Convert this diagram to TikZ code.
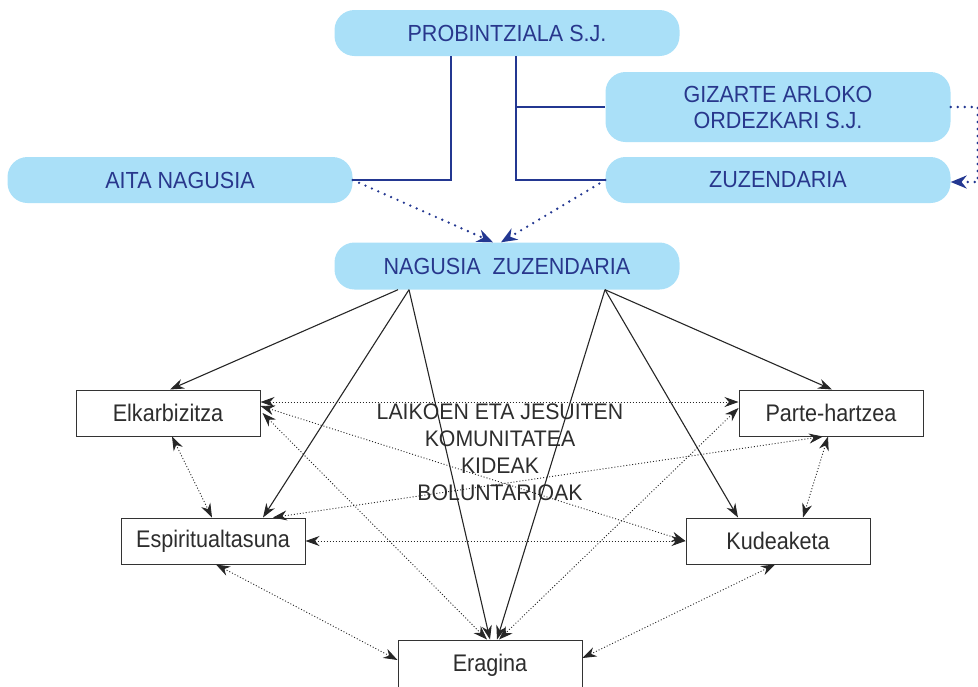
\documentclass[tikz,border=0pt]{standalone}
\usepackage{fontspec}
\setmainfont{Liberation Sans}
\newfontfamily\condfont[FakeStretch=0.925]{Liberation Sans}
\newfontfamily\boxfont[FakeStretch=0.9]{Liberation Sans}
\newfontfamily\midfont[FakeStretch=0.945]{Liberation Sans}
\usetikzlibrary{arrows.meta}
\definecolor{boxblue}{RGB}{170,224,248}
\definecolor{textblue}{RGB}{40,55,140}
\definecolor{lineblue}{RGB}{35,55,145}
\definecolor{textgray}{RGB}{45,45,45}
\begin{document}
\begin{tikzpicture}[x=1pt,y=-1pt,
  bluebox/.style={fill=boxblue, rounded corners=20pt, minimum width=345pt, minimum height=46pt, text=textblue, font=\fontsize{23.3}{26}\selectfont\condfont, align=center, inner sep=0pt},
  whitebox/.style={draw=black!80, line width=1pt, fill=white, minimum width=184pt, minimum height=46pt, font=\fontsize{24}{28}\selectfont\boxfont, text=textgray, inner sep=0pt},
  orgline/.style={draw=lineblue, line width=2.5pt},
  bluedots/.style={draw=lineblue, line width=2.6pt, line cap=round, dash pattern=on 0pt off 7pt, -{Stealth[length=16pt,width=13pt]}},
  linkarrow/.style={draw=black!85, line width=1.1pt, -{Stealth[length=14pt,width=10pt]}},
  dotlink/.style={draw=black!85, line width=0.9pt, dash pattern=on 1pt off 2pt, {Stealth[length=14pt,width=10pt]}-{Stealth[length=14pt,width=10pt]}}
]
\path[use as bounding box, clip] (0,0) rectangle (978,686);

% blue boxes
\node[bluebox] (prob) at (507,33) {PROBINTZIALA S.J.};
\node[bluebox, minimum height=70pt] (giz) at (778,107) {GIZARTE ARLOKO\\ORDEZKARI S.J.};
\node[bluebox] (zuz) at (778,180) {ZUZENDARIA};
\node[bluebox] (aita) at (180,180) {AITA NAGUSIA};
\node[bluebox, minimum height=47pt] (nz) at (507,266) {NAGUSIA\ \ ZUZENDARIA};

% white boxes
\node[whitebox] (elk) at (168,413) {Elkarbizitza};
\node[whitebox] (par) at (831,413) {Parte-hartzea};
\node[whitebox] (esp) at (213,541) {Espiritualtasuna};
\node[whitebox] (kud) at (778,541) {Kudeaketa};
\node[whitebox, minimum height=50pt] (era) at (490,665) {Eragina};

% centre text
\node[font=\fontsize{22.5}{27}\selectfont\midfont, text=textgray, align=center] (comm) at (500,452) {LAIKOEN ETA JESUITEN\\KOMUNITATEA\\KIDEAK\\BOLUNTARIOAK};

% organisational lines
\draw[orgline] ([xshift=-56pt]prob.south) |- (aita.east);
\draw[orgline] ([xshift=9pt]prob.south) |- (zuz.west);
\draw[orgline] ([xshift=9pt]prob.south |- giz.west) -- (giz.west);

\draw[bluedots] (aita.east) -- ([xshift=-14pt]nz.north);
\draw[bluedots] (zuz.west) -- ([xshift=-6pt]nz.north);
\draw[bluedots] (giz.east) -- ([xshift=27pt]giz.east) |- ([yshift=-2pt]zuz.east);

% solid arrows from NAGUSIA ZUZENDARIA
\draw[linkarrow] ([xshift=-109pt]nz.south) -- ([xshift=2pt]elk.north);
\draw[linkarrow] ([xshift=-98pt]nz.south) -- ([xshift=50pt]esp.north);
\draw[linkarrow] ([xshift=-98pt]nz.south) -- ([xshift=0pt]era.north);
\draw[linkarrow] ([xshift=98pt]nz.south) -- ([xshift=7pt]era.north);
\draw[linkarrow] ([xshift=98pt]nz.south) -- ([xshift=-40pt]kud.north);
\draw[linkarrow] ([xshift=98pt]nz.south) -- ([xshift=1pt]par.north);

% dotted links
\draw[dotlink] ([yshift=11pt]elk.east) -- ([yshift=11pt]par.west);
\draw[dotlink] ([yshift=7pt]elk.east) -- (kud.west);
\draw[dotlink] ([xshift=2pt]elk.east) -- ([xshift=-3pt]era.north);
\draw[dotlink] ([xshift=60pt]esp.north) -- ([xshift=-8pt]par.south);
\draw[dotlink] (esp.east) -- (kud.west);
\draw[dotlink] ([yshift=5pt]par.west) -- ([xshift=9pt]era.north);
\draw[dotlink] ([xshift=4pt]elk.south) -- ([xshift=-1pt]esp.north);
\draw[dotlink] ([xshift=-3pt]par.south) -- ([xshift=25pt]kud.north);
\draw[dotlink] ([xshift=3pt]esp.south) -- ([yshift=5pt]era.west);
\draw[dotlink] ([xshift=-3pt]kud.south) -- ([yshift=7pt]era.east);
\end{tikzpicture}
\end{document}
